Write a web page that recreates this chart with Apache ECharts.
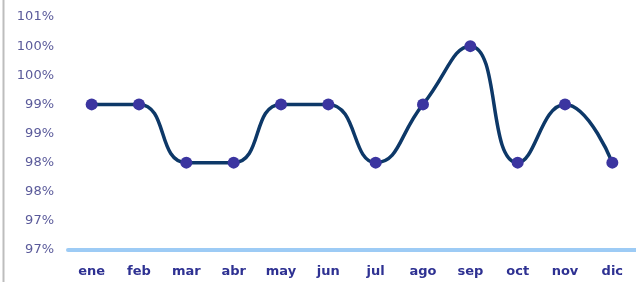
<!DOCTYPE html>
<html>
<head>
<meta charset="utf-8">
<script src="https://cdn.jsdelivr.net/npm/echarts@6/dist/echarts.min.js"></script>
<style>
  html, body { margin: 0; padding: 0; background: #fff; }
  #chart { width: 636px; height: 282px; }
</style>
</head>
<body>
<div id="chart"></div>
<script>
// meses
const months = ['ene', 'feb', 'mar', 'abr', 'may', 'jun', 'jul', 'ago', 'sep', 'oct', 'nov', 'dic'];
// valores en %
const values = [99, 99, 98, 98, 99, 99, 98, 99, 100, 98, 99, 98];
// etiquetas del eje (redondeadas como en Excel)
const yTickLabels = ['97%', '97%', '98%', '98%', '99%', '99%', '100%', '100%', '101%'];
const yMin = 96.5, yMax = 100.5, yStep = 0.5;

window.onload = function () {
    const chart = echarts.init(document.getElementById('chart'));
    chart.setOption({
        animation: false,
        grid: { left: 68, right: -3, top: 17, bottom: 32 },
        graphic: [{
            type: 'line',
            shape: { x1: 3.5, y1: 0, x2: 3.5, y2: 282 },
            style: { stroke: '#bdbdbd', lineWidth: 2 }
        }],
        xAxis: {
            type: 'category',
            data: months,
            boundaryGap: true,
            axisLine: { lineStyle: { color: '#9dcbf5', width: 4 } },
            axisTick: { show: false },
            axisLabel: {
                color: '#2e3192', fontFamily: 'DejaVu Sans', fontWeight: 'bold',
                fontSize: 13, margin: 15
            }
        },
        yAxis: {
            type: 'value',
            min: yMin, max: yMax, interval: yStep,
            splitLine: { show: false },
            axisLine: { show: false },
            axisTick: { show: false },
            axisLabel: {
                color: '#5a5a9a', fontFamily: 'DejaVu Sans', fontSize: 13, margin: 14,
                formatter: function (v) { return yTickLabels[Math.round((v - yMin) / yStep)]; }
            }
        },
        series: [{
            type: 'line',
            data: values,
            smooth: 0.5,
            symbol: 'circle',
            symbolSize: 12,
            lineStyle: { color: '#0d3868', width: 3.5 },
            itemStyle: { color: '#3b35a0' },
            z: 3
        }]
    });
};
</script>
</body>
</html>
